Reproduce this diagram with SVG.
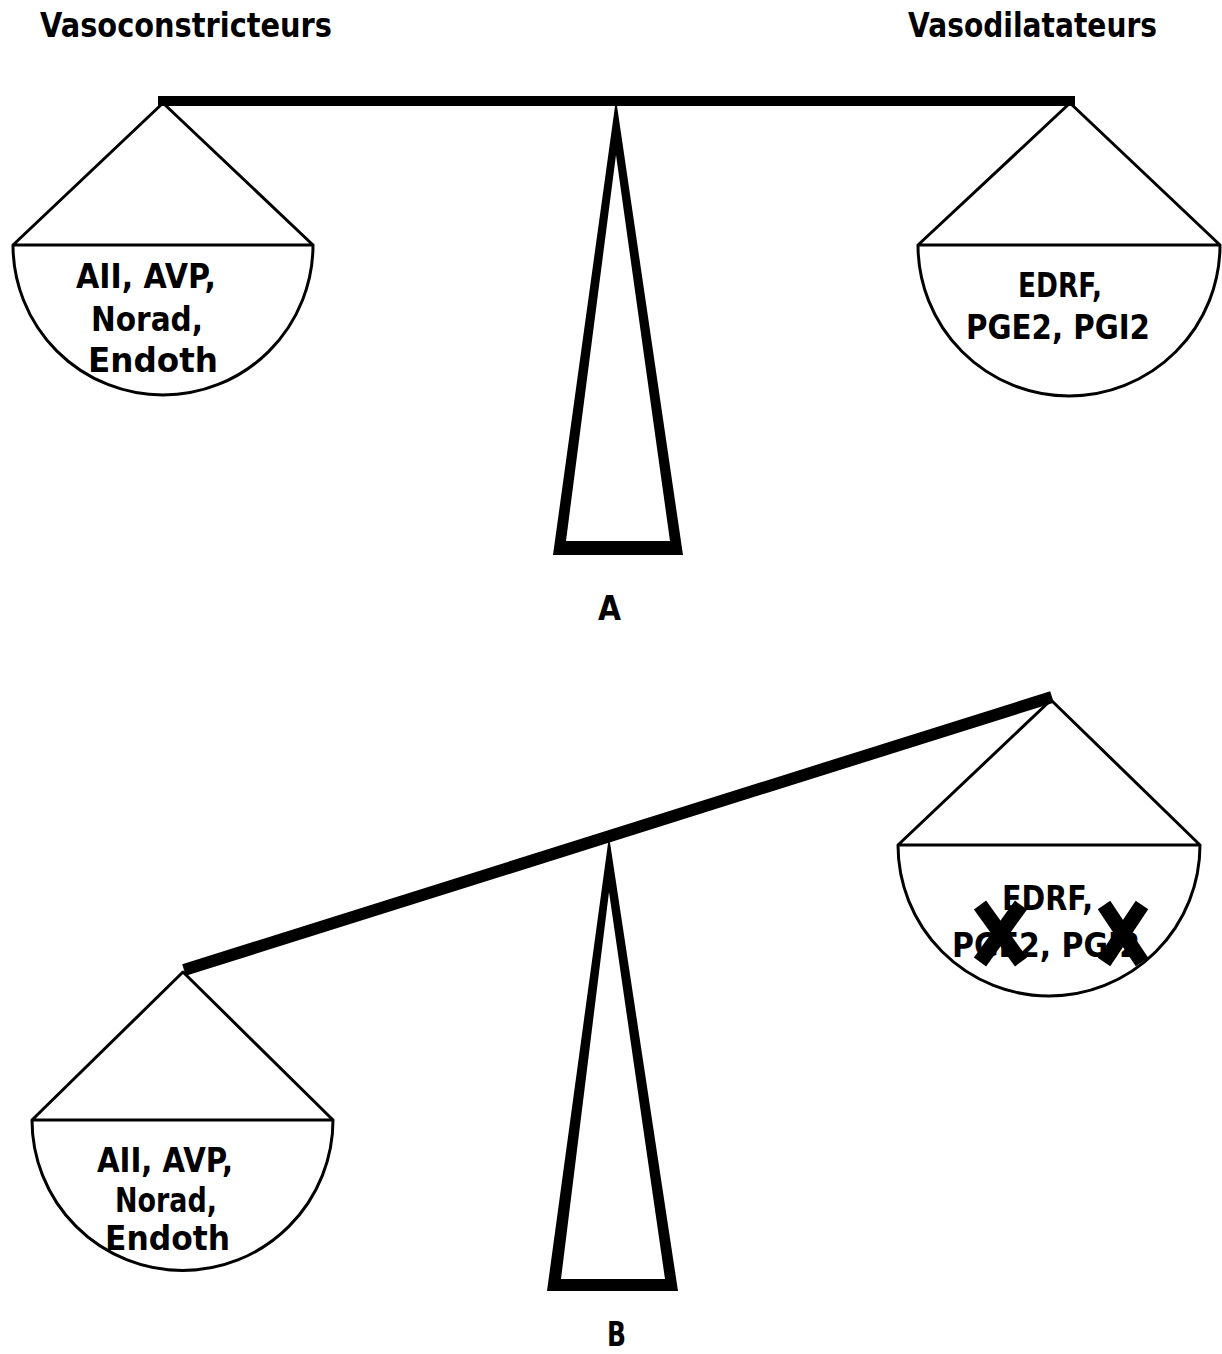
<svg xmlns="http://www.w3.org/2000/svg" width="1222" height="1354" viewBox="0 0 1222 1354">
<style>
.pan{fill:none;stroke:#000;stroke-width:3;stroke-linejoin:round}
.beam{stroke:#000;fill:none;stroke-linecap:butt}
.fulcrum{fill:#000;fill-rule:evenodd;stroke:none}
.t{font-family:"DejaVu Sans","Liberation Sans",sans-serif;font-weight:bold;fill:#000;font-size:34px}
.h{font-family:"DejaVu Sans","Liberation Sans",sans-serif;font-weight:bold;fill:#000;font-size:33px}
.x{stroke:#000;stroke-width:15;stroke-linecap:butt}
</style>
<rect width="1222" height="1354" fill="#fff"/>
<g id="titles">
<text class="h" x="40" y="37" textLength="292" lengthAdjust="spacingAndGlyphs">Vasoconstricteurs</text>
<text class="h" x="908" y="37" textLength="249" lengthAdjust="spacingAndGlyphs">Vasodilatateurs</text>
</g>
<g id="scale-A">
<g id="connectors-A">
<line class="beam" x1="158" y1="101" x2="1075" y2="101" stroke-width="10"/>
</g>
<g id="fulcrum-A">
<path class="fulcrum" d="M616,99 L683,555 L553,555 Z M616,155 L566,541 L670,541 Z"/>
</g>
<g id="pan-left-A">
<path class="pan" d="M13,245 L163,103 L313,245 Z M13,245 A150,150 0 0 0 313,245"/>
<text class="t" x="76" y="288" textLength="140" lengthAdjust="spacingAndGlyphs">AII, AVP,</text>
<text class="t" x="91" y="331" textLength="112" lengthAdjust="spacingAndGlyphs">Norad,</text>
<text class="t" x="88" y="372" textLength="130" lengthAdjust="spacingAndGlyphs">Endoth</text>
</g>
<g id="pan-right-A">
<path class="pan" d="M918,245 L1070,103 L1220,245 Z M918,245 A151,151 0 0 0 1220,245"/>
<text class="t" x="1018" y="297" textLength="84" lengthAdjust="spacingAndGlyphs">EDRF,</text>
<text class="t" x="966" y="339" textLength="184" lengthAdjust="spacingAndGlyphs">PGE2, PGI2</text>
</g>
<text id="label-A" class="t" x="598" y="620" textLength="23" lengthAdjust="spacingAndGlyphs">A</text>
</g>
<g id="scale-B">
<g id="connectors-B">
<line class="beam" x1="184" y1="970" x2="1052" y2="697" stroke-width="12"/>
</g>
<g id="fulcrum-B">
<path class="fulcrum" d="M609,836 L678,1291 L547,1291 Z M609,892 L561,1279 L665,1279 Z"/>
</g>
<g id="pan-left-B">
<path class="pan" d="M32,1120 L183,972 L333,1120 Z M32,1120 A150.5,150.5 0 0 0 333,1120"/>
<text class="t" x="97" y="1172" textLength="136" lengthAdjust="spacingAndGlyphs">AII, AVP,</text>
<text class="t" x="115" y="1212" textLength="102" lengthAdjust="spacingAndGlyphs">Norad,</text>
<text class="t" x="105" y="1250" textLength="125" lengthAdjust="spacingAndGlyphs">Endoth</text>
</g>
<g id="pan-right-B">
<path class="pan" d="M898,845 L1051,700 L1200,845 Z M898,845 A151,151 0 0 0 1200,845"/>
<text class="t" x="1002" y="910" textLength="91" lengthAdjust="spacingAndGlyphs">EDRF,</text>
<text class="t" x="952" y="957" textLength="188" lengthAdjust="spacingAndGlyphs">PGE2, PGI2</text>
<g id="crosses">
<line class="x" x1="980" y1="905" x2="1021" y2="962"/>
<line class="x" x1="1021" y1="905" x2="980" y2="962"/>
<line class="x" x1="1104" y1="905" x2="1142" y2="962"/>
<line class="x" x1="1142" y1="905" x2="1104" y2="962"/>
</g>
</g>
<text id="label-B" class="t" x="607" y="1346" textLength="19" lengthAdjust="spacingAndGlyphs">B</text>
</g>
</svg>
